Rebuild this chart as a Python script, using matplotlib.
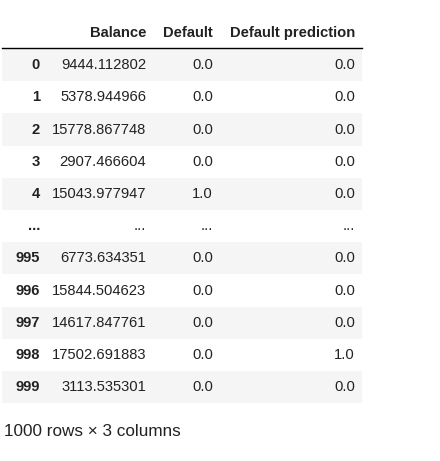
import matplotlib.pyplot as plt
from matplotlib.patches import Rectangle

plt.rcParams['font.family'] = ['Liberation Sans', 'DejaVu Sans']

columns = ["Balance", "Default", "Default prediction"]
index = ["0", "1", "2", "3", "4", "...", "995", "996", "997", "998", "999"]
balance = ["9444.112802", "5378.944966", "15778.867748", "2907.466604", "15043.977947", "...",
           "6773.634351", "15844.504623", "14617.847761", "17502.691883", "3113.535301"]
default = ["0.0", "0.0", "0.0", "0.0", "1.0", "...", "0.0", "0.0", "0.0", "0.0", "0.0"]
prediction = ["0.0", "0.0", "0.0", "0.0", "0.0", "...", "0.0", "0.0", "0.0", "1.0", "0.0"]

fig = plt.figure(figsize=(4.4, 4.61), dpi=100)
ax = fig.add_axes([0, 0, 1, 1])
ax.set_xlim(0, 440)
ax.set_ylim(461, 0)
ax.axis("off")

right_edges = [40, 146, 213, 355]
fs = 10.6

# header
for x, name in zip(right_edges[1:], columns):
    ax.text(x, 33, name, ha="right", va="center", fontsize=fs, fontweight="bold", color="#222")
ax.plot([2, 362], [48, 48], color="black", lw=1)

top, step = 49, 32.2
for i, row in enumerate(zip(index, balance, default, prediction)):
    y0 = top + i * step
    if i % 2 == 0:
        ax.add_patch(Rectangle((2, y0), 360, step, color="#f5f5f5", lw=0))
    yc = y0 + step / 2
    for j, (x, val) in enumerate(zip(right_edges, row)):
        ax.text(x, yc, val, ha="right", va="center", fontsize=fs,
                fontweight="bold" if j == 0 else "normal", color="#222")

ax.text(4, 431, "1000 rows \u00d7 3 columns", ha="left", va="center", fontsize=12.3, color="#222")

fig.savefig("out.png", dpi=100)
